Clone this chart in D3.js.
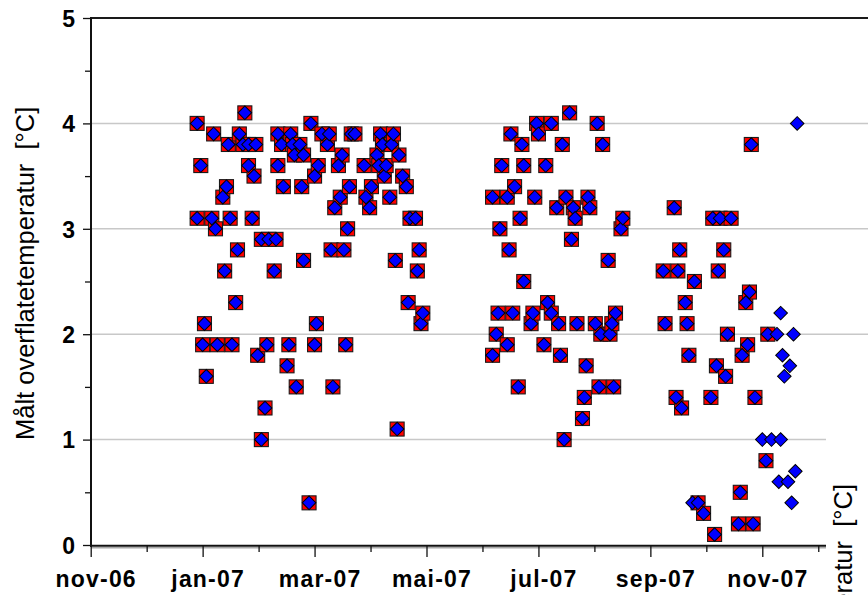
<!DOCTYPE html>
<html><head><meta charset="utf-8">
<script src="https://cdn.jsdelivr.net/npm/d3@7/dist/d3.min.js"></script>
<style>body{margin:0;background:#fff}svg{display:block}</style>
</head><body><svg id="chart" width="868" height="595"></svg>
<script>
// ---------- data ----------
const dates = [
"2006-12-29","2006-12-29","2006-12-31","2007-01-01","2007-01-02","2007-01-03","2007-01-06","2007-01-07","2007-01-08","2007-01-09",
"2007-01-12","2007-01-13","2007-01-14","2007-01-15","2007-01-16","2007-01-17","2007-01-19","2007-01-20","2007-01-21","2007-01-23",
"2007-01-24","2007-01-26","2007-01-26","2007-01-28","2007-01-29","2007-01-30","2007-01-31","2007-02-02","2007-02-02","2007-02-04",
"2007-02-05","2007-02-06","2007-02-09","2007-02-10","2007-02-11","2007-02-11","2007-02-13","2007-02-14","2007-02-16","2007-02-17",
"2007-02-18","2007-02-19","2007-02-20","2007-02-21","2007-02-23","2007-02-24","2007-02-25","2007-02-25","2007-02-28","2007-03-01",
"2007-03-03","2007-03-03","2007-03-04","2007-03-05","2007-03-07","2007-03-10","2007-03-11","2007-03-12","2007-03-13","2007-03-14",
"2007-03-16","2007-03-17","2007-03-18","2007-03-19","2007-03-20","2007-03-21","2007-03-22","2007-03-23","2007-03-25","2007-03-30",
"2007-03-31","2007-04-02","2007-04-03","2007-04-06","2007-04-07","2007-04-08","2007-04-09","2007-04-10","2007-04-11","2007-04-13",
"2007-04-14","2007-04-15","2007-04-16","2007-04-17","2007-04-18","2007-04-20","2007-04-22","2007-04-23","2007-04-24","2007-04-27",
"2007-04-28","2007-04-29","2007-04-30","2007-05-01",
"2007-06-08","2007-06-08","2007-06-10","2007-06-11","2007-06-12","2007-06-13","2007-06-16","2007-06-16","2007-06-17","2007-06-18",
"2007-06-19","2007-06-20","2007-06-22","2007-06-23","2007-06-24","2007-06-25","2007-06-25","2007-06-29","2007-06-30","2007-07-01",
"2007-07-02","2007-07-03","2007-07-06","2007-07-07","2007-07-08","2007-07-10","2007-07-10","2007-07-13","2007-07-14","2007-07-15",
"2007-07-16","2007-07-17","2007-07-18","2007-07-20","2007-07-21","2007-07-22","2007-07-23","2007-07-24","2007-07-27","2007-07-28",
"2007-07-29","2007-07-30","2007-07-31","2007-08-03","2007-08-04","2007-08-05","2007-08-06","2007-08-07","2007-08-10","2007-08-11",
"2007-08-12","2007-08-13","2007-08-14","2007-08-17","2007-08-18",
"2007-09-09","2007-09-10","2007-09-15","2007-09-16","2007-09-17","2007-09-18","2007-09-19","2007-09-21","2007-09-22","2007-09-23",
"2007-09-25","2007-09-26","2007-09-28","2007-10-01","2007-10-05","2007-10-06","2007-10-07","2007-10-08","2007-10-09","2007-10-10",
"2007-10-12","2007-10-13","2007-10-14","2007-10-16","2007-10-20","2007-10-21","2007-10-22","2007-10-24","2007-10-25","2007-10-26",
"2007-10-27","2007-10-28","2007-10-29",
"2007-11-02","2007-11-04","2007-11-05","2007-11-07","2007-11-10","2007-11-11","2007-11-12","2007-11-12","2007-11-13","2007-11-14",
"2007-11-16","2007-11-17","2007-11-18","2007-11-19","2007-11-20","2007-11-21"
];

// red squares (null = no red value that day)
const redValues = [
3.1,4.0,3.6,1.9,2.1,1.6,3.1,3.9,3.0,1.9,
3.3,2.6,3.4,3.8,3.1,1.9,2.3,2.8,3.9,3.8,
4.1,3.6,3.8,3.1,3.5,3.8,1.8,1.0,2.9,1.3,
1.9,2.9,2.6,2.9,3.6,3.9,3.8,3.4,1.7,1.9,
3.9,3.8,3.7,1.5,3.8,3.4,3.7,2.7,0.4,4.0,
1.9,3.5,2.1,3.6,3.9,3.8,3.9,2.8,1.5,3.2,
3.6,3.3,3.7,2.8,1.9,3.0,3.4,3.9,3.9,3.6,
3.3,3.2,3.4,3.7,3.6,3.9,3.8,3.5,3.6,3.3,
3.8,3.9,2.7,1.1,3.7,3.5,3.4,2.3,3.1,3.1,
2.6,2.8,2.1,2.2,
3.3,1.8,2.0,2.2,3.0,3.6,1.9,3.3,2.8,3.9,
2.2,3.4,1.5,3.1,3.8,3.6,2.5,2.1,2.2,3.3,
4.0,3.9,1.9,3.6,2.3,2.2,4.0,3.2,2.1,1.8,
3.8,1.0,3.3,4.1,2.9,3.2,3.1,2.1,1.2,1.4,
1.7,3.3,3.2,2.1,4.0,1.5,2.0,3.8,2.7,2.0,
2.1,1.5,2.2,3.0,3.1,
2.6,2.1,3.2,1.4,2.6,2.8,1.3,2.3,2.1,1.8,
null,2.5,0.4,0.3,1.4,3.1,0.1,1.7,2.6,3.1,
2.8,1.6,2.0,3.1,0.2,0.5,1.8,2.3,1.9,2.4,
3.8,0.2,1.4,
null,0.8,2.0,null,null,null,null,null,null,null,
null,null,null,null,null,null
];

// blue diamonds
const blueValues = [
3.1,4.0,3.6,1.9,2.1,1.6,3.1,3.9,3.0,1.9,
3.3,2.6,3.4,3.8,3.1,1.9,2.3,2.8,3.9,3.8,
4.1,3.6,3.8,3.1,3.5,3.8,1.8,1.0,2.9,1.3,
1.9,2.9,2.6,2.9,3.6,3.9,3.8,3.4,1.7,1.9,
3.9,3.8,3.7,1.5,3.8,3.4,3.7,2.7,0.4,4.0,
1.9,3.5,2.1,3.6,3.9,3.8,3.9,2.8,1.5,3.2,
3.6,3.3,3.7,2.8,1.9,3.0,3.4,3.9,3.9,3.6,
3.3,3.2,3.4,3.7,3.6,3.9,3.8,3.5,3.6,3.3,
3.8,3.9,2.7,1.1,3.7,3.5,3.4,2.3,3.1,3.1,
2.6,2.8,2.1,2.2,
3.3,1.8,2.0,2.2,3.0,3.6,1.9,3.3,2.8,3.9,
2.2,3.4,1.5,3.1,3.8,3.6,2.5,2.1,2.2,3.3,
4.0,3.9,1.9,3.6,2.3,2.2,4.0,3.2,2.1,1.8,
3.8,1.0,3.3,4.1,2.9,3.2,3.1,2.1,1.2,1.4,
1.7,3.3,3.2,2.1,4.0,1.5,2.0,3.8,2.7,2.0,
2.1,1.5,2.2,3.0,3.1,
2.6,2.1,3.2,1.4,2.6,2.8,1.3,2.3,2.1,1.8,
0.4,2.5,0.4,0.3,1.4,3.1,0.1,1.7,2.6,3.1,
2.8,1.6,2.0,3.1,0.2,0.5,1.8,2.3,1.9,2.4,
3.8,0.2,1.4,
1.0,0.8,2.0,1.0,2.0,0.6,1.0,2.2,1.8,1.6,
0.6,1.7,0.4,2.0,0.7,4.0
];

const xTickDates  = ["2006-11-01","2007-01-01","2007-03-03","2007-05-03","2007-07-03","2007-09-02","2007-11-02"];
const xTickLabels = ["nov-06","jan-07","mar-07","mai-07","jul-07","sep-07","nov-07"];
const yTicks      = [0, 1, 2, 3, 4, 5];
const yMinorTicks = [0.5, 1.5, 2.5, 3.5, 4.5];
const yGrid       = [1, 2, 3, 4];
const yTitle      = "Målt overflatetemperatur  [°C]";

// ---------- drawing ----------
const parse = d3.utcParse("%Y-%m-%d");
const W = 868, H = 595;
const plotLeft = 91, plotTop = 18, plotBottom = 545;
const svg = d3.select("#chart");
const font = "Arial, 'Liberation Sans', sans-serif";

const x = d3.scaleUtc()
  .domain([parse("2006-11-01"), parse("2007-11-02")])
  .range([90.7, 762.3]);
const y = d3.scaleLinear().domain([0, 5]).range([plotBottom, plotTop]);

const majorX = xTickDates.map(parse);
const minorX = majorX.map(d => new Date(d.getTime() + 30.5 * 864e5));

// gridlines
svg.append("g").selectAll("line").data(yGrid).join("line")
  .attr("x1", plotLeft).attr("x2", W)
  .attr("y1", d => y(d)).attr("y2", d => y(d))
  .attr("stroke", "#c8c8c8").attr("stroke-width", 1.5);

// top frame line
svg.append("line").attr("x1", plotLeft).attr("x2", W).attr("y1", y(5)).attr("y2", y(5))
  .attr("stroke", "#1a1a1a").attr("stroke-width", 1.8);

// bottom axis lines
svg.append("line").attr("x1", plotLeft).attr("x2", W).attr("y1", plotBottom + 2.8).attr("y2", plotBottom + 2.8)
  .attr("stroke", "#a8a8a8").attr("stroke-width", 1.5);
svg.append("line").attr("x1", plotLeft - 1).attr("x2", W).attr("y1", plotBottom + 0.8).attr("y2", plotBottom + 0.8)
  .attr("stroke", "#111").attr("stroke-width", 2);

// y axis
const yAxis = svg.append("g").attr("transform", `translate(${plotLeft},0)`)
  .call(d3.axisLeft(y).tickValues(yTicks).tickSize(8).tickPadding(8).tickFormat(d3.format("d")));
yAxis.select(".domain").remove();
yAxis.selectAll("line").attr("stroke", "#111").attr("stroke-width", 1.3);
yAxis.selectAll("text").attr("font-family", font).attr("font-size", 23).attr("font-weight", "bold")
  .attr("fill", "#000").attr("dy", "0.36em");
const yMinor = svg.append("g").attr("transform", `translate(${plotLeft},0)`)
  .call(d3.axisLeft(y).tickValues(yMinorTicks).tickSize(6).tickFormat(""));
yMinor.select(".domain").remove();
yMinor.selectAll("line").attr("stroke", "#111").attr("stroke-width", 1.3);
svg.append("line").attr("x1", plotLeft).attr("x2", plotLeft).attr("y1", plotTop - 1).attr("y2", plotBottom + 2)
  .attr("stroke", "#111").attr("stroke-width", 2);

// x axis
const xAxis = svg.append("g").attr("transform", `translate(0,${plotBottom})`)
  .call(d3.axisBottom(x).tickValues(majorX).tickSize(12).tickFormat((d, i) => xTickLabels[i]));
xAxis.select(".domain").remove();
xAxis.selectAll("line").attr("stroke", "#111").attr("stroke-width", 1.3);
xAxis.selectAll("text").attr("font-family", font).attr("font-size", 23).attr("font-weight", "bold")
  .attr("fill", "#000").attr("y", 42).attr("dy", null).attr("dx", 5).attr("letter-spacing", 1.2);
const xMinor = svg.append("g").attr("transform", `translate(0,${plotBottom})`)
  .call(d3.axisBottom(x).tickValues(minorX).tickSize(7).tickFormat(""));
xMinor.select(".domain").remove();
xMinor.selectAll("line").attr("stroke", "#111").attr("stroke-width", 1.3);

// y title (left)
svg.append("text").attr("transform", `translate(33.6,440) rotate(-90)`)
  .attr("font-family", font).attr("font-size", 25.5).attr("fill", "#000")
  .attr("text-anchor", "start").style("white-space", "pre").text(yTitle);

// points
const pts = dates.map((d, i) => ({ date: parse(d), red: redValues[i], blue: blueValues[i] }));

svg.append("g").selectAll("rect")
  .data(pts.filter(p => p.red !== null)).join("rect")
  .attr("x", p => x(p.date) - 7).attr("y", p => y(p.red) - 7)
  .attr("width", 14).attr("height", 14)
  .attr("fill", "#ff0000").attr("stroke", "#1a1a1a").attr("stroke-width", 1.1);

const diamond = d3.symbol().type(d3.symbolSquare).size(92);
svg.append("g").selectAll("path")
  .data(pts.filter(p => p.blue !== null)).join("path")
  .attr("d", diamond)
  .attr("transform", p => `translate(${x(p.date)},${y(p.blue)}) rotate(45)`)
  .attr("fill", "#0000ff").attr("stroke", "#000").attr("stroke-width", 1);

// overlapping secondary title block at right edge
svg.append("rect").attr("x", 826).attr("y", 400).attr("width", W - 826).attr("height", H - 400)
  .attr("fill", "#fff");
svg.append("text").attr("transform", `translate(851.6,484) rotate(-90)`)
  .attr("font-family", font).attr("font-size", 25.5).attr("fill", "#000")
  .attr("text-anchor", "end").style("white-space", "pre").text(yTitle);
</script>
</body></html>
